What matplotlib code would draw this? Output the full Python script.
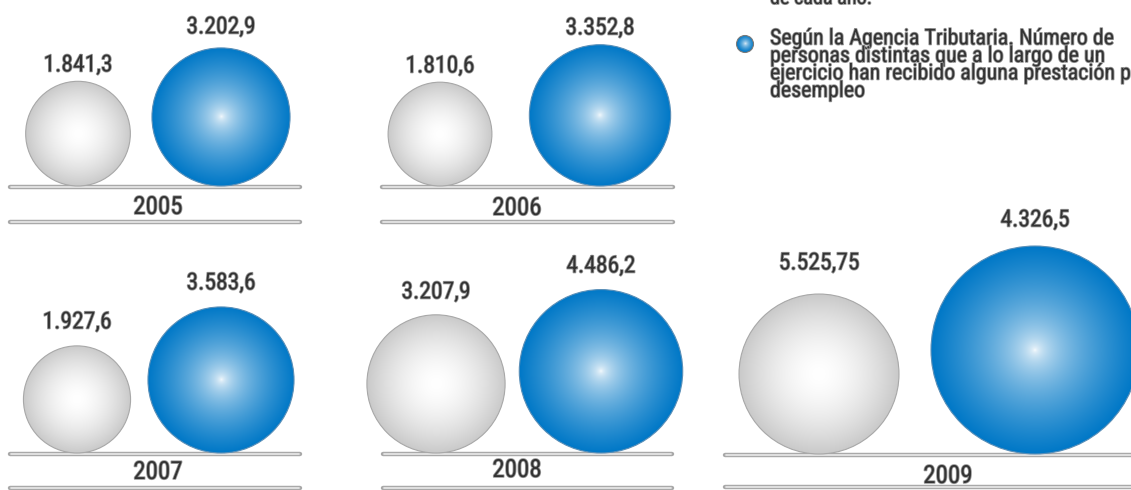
import numpy as np
import matplotlib
matplotlib.use("Agg")
import matplotlib.pyplot as plt
from matplotlib.patches import Circle
from matplotlib import font_manager as fm
import matplotlib.patheffects as pe

# ---------------- data ----------------
years = ["2005", "2006", "2007", "2008", "2009"]
grey_values = [1841.3, 1810.6, 1927.6, 3207.9, 5525.75]
blue_values = [3202.9, 3352.8, 3583.6, 4486.2, 4326.5]
grey_labels = ["1.841,3", "1.810,6", "1.927,6", "3.207,9", "5.525,75"]
blue_labels = ["3.202,9", "3.352,8", "3.583,6", "4.486,2", "4.326,5"]
legend_top = "de cada año."
legend_lines = ["Según la Agencia Tributaria. Número de",
                "personas distintas que a lo largo de un",
                "ejercicio han recibido alguna prestación por",
                "desempleo"]

# ---------------- layout (pixels) ----------------
W, H = 1131, 490
layout = [
    dict(gx=78, bx=221, base=186, x0=10, x1=300, low=222, yx=158, yy=207, gly=65, bly=27, kg=1.22, kb=1.22),
    dict(gx=440, bx=600, base=186, x0=382, x1=673, low=222, yx=517, yy=208, gly=66, bly=28, kg=1.22, kb=1.22),
    dict(gx=77, bx=221, base=453, x0=10, x1=300, low=488, yx=158, yy=472, gly=322, bly=283, kg=1.22, kb=1.22),
    dict(gx=436, bx=601, base=453, x0=383, x1=672, low=488, yx=517, yy=470, gly=292, bly=266, kg=1.22, kb=1.22),
    dict(gx=819, bx=1035, base=454, x0=725, x1=1140, low=487, yx=948, yy=476, gly=263, bly=220, kg=1.076, kb=1.581),
]

avail = {f.name for f in fm.fontManager.ttflist}
family = "DejaVu Sans"
for cand in ["Liberation Sans Narrow", "Roboto Condensed", "Open Sans Condensed"]:
    if cand in avail:
        family = cand
        break

fig = plt.figure(figsize=(W / 100, H / 100), dpi=100)
ax = fig.add_axes([0, 0, 1, 1])
ax.set_xlim(0, W)
ax.set_ylim(H, 0)
ax.set_aspect("equal")
ax.axis("off")

BLUE = np.array([0.0, 0.47, 0.78])
GREY = np.array([0.79, 0.79, 0.79])
WHITE = np.array([1.0, 1.0, 1.0])


def ball(cx, cy, r, edge_rgb, edgecol, power, z=3):
    n = 200
    xs = np.linspace(-1, 1, n)
    X, Y = np.meshgrid(xs, xs)
    d = np.clip(np.sqrt(X ** 2 + Y ** 2), 0, 1)
    f = d ** power
    img = WHITE[None, None, :] * (1 - f[..., None]) + edge_rgb[None, None, :] * f[..., None]
    im = ax.imshow(img, extent=(cx - r, cx + r, cy + r, cy - r), zorder=z, interpolation="bilinear")
    c = Circle((cx, cy), r, transform=ax.transData, facecolor="none")
    im.set_clip_path(c)
    ax.add_patch(Circle((cx, cy), r, facecolor="none", edgecolor=edgecol, lw=0.8, zorder=z + 0.1))


def hline(x0, x1, y):
    ax.plot([x0, x1], [y, y], color="#a9a9a9", lw=3.2, solid_capstyle="round", zorder=2)
    ax.plot([x0 + 1, x1 - 1], [y, y], color="#e4e4e4", lw=1.3, solid_capstyle="round", zorder=2.1)


txt_fx = [pe.withStroke(linewidth=1.2, foreground="#9a9a9a")]

for i, L in enumerate(layout):
    rg = L["kg"] * np.sqrt(grey_values[i])
    rb = L["kb"] * np.sqrt(blue_values[i])
    hline(L["x0"], L["x1"], L["base"] + 1)
    hline(L["x0"], L["x1"], L["low"])
    ball(L["gx"], L["base"] - rg, rg, GREY, "#a8a8a8", 1.6)
    ball(L["bx"], L["base"] - rb, rb, BLUE, "#5a8fb8", 0.55)
    ax.text(L["gx"], L["gly"], grey_labels[i], ha="center", va="center", fontsize=17,
            family=family, color="#333333", path_effects=txt_fx, zorder=5)
    ax.text(L["bx"], L["bly"], blue_labels[i], ha="center", va="center", fontsize=17,
            family=family, color="#333333", path_effects=txt_fx, zorder=5)
    ax.text(L["yx"], L["yy"], years[i], ha="center", va="center", fontsize=18,
            family=family, color="#333333", path_effects=txt_fx, zorder=5)

# legend
ax.text(770, 4, legend_top, ha="left", va="baseline", fontsize=14.5, family=family,
        color="#333333", path_effects=txt_fx, zorder=5)
ball(745, 44, 8.5, BLUE, "#7a7a7a", 0.55, z=4)
ax.text(770, 28.5, "\n".join(legend_lines), ha="left", va="top", fontsize=15.8,
        family=family, color="#333333", path_effects=txt_fx, zorder=5,
        linespacing=0.78)

fig.savefig("out.png", dpi=100)
